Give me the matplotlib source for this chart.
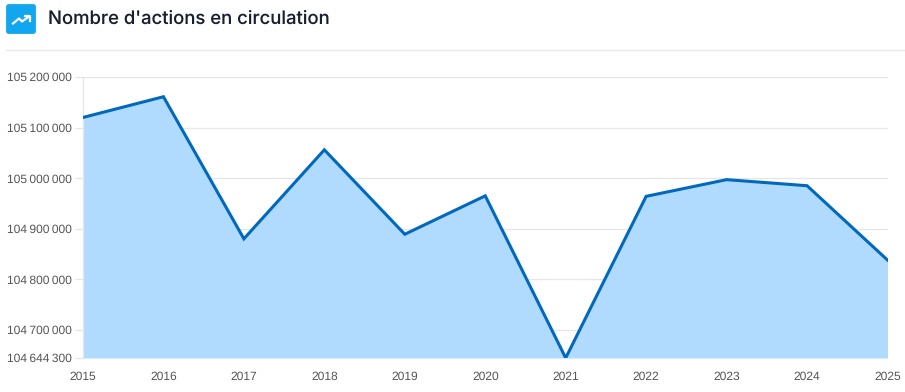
import matplotlib
matplotlib.use("Agg")
import matplotlib.pyplot as plt
from matplotlib.patches import FancyBboxPatch
from matplotlib.lines import Line2D

W, H = 905, 392
years = [2015, 2016, 2017, 2018, 2019, 2020, 2021, 2022, 2023, 2024, 2025]
shares = [105120000, 105161000, 104880000, 105056000, 104889000, 104965000,
          104644300, 104964000, 104997000, 104985000, 104838000]
y_ticks = [104644300, 104700000, 104800000, 104900000, 105000000, 105100000, 105200000]
y_labels = ["104\u2009644\u2009300", "104\u2009700\u2009000", "104\u2009800\u2009000", "104\u2009900\u2009000",
            "105\u2009000\u2009000", "105\u2009100\u2009000", "105\u2009200\u2009000"]
title = "Nombre d'actions en circulation"

plt.rcParams['font.family'] = ['Liberation Sans', 'DejaVu Sans']
plt.rcParams['text.hinting'] = 'none'
plt.rcParams['text.hinting_factor'] = 1
fig = plt.figure(figsize=(W/100, H/100), dpi=100, facecolor='white')

def fx(p): return p / W
def fy(p): return 1 - p / H

left, right, top, bottom = 83, 887.5, 77, 358
ax = fig.add_axes([fx(left), fy(bottom), (right-left)/W, (bottom-top)/H])
ax.set_xlim(years[0], years[-1])
ax.set_ylim(y_ticks[0], y_ticks[-1])
ax.fill_between(years, shares, y_ticks[0], color='#b1daff', lw=0, zorder=2)
ax.plot(years, shares, color='#0069bd', lw=2.2, zorder=3, clip_on=True, solid_joinstyle='miter')
ax.set_yticks(y_ticks, y_labels)
ax.set_xticks(years, [str(y) for y in years])
ax.grid(axis='y', color='#e6e6e6', lw=0.9, zorder=1)
ax.set_axisbelow(True)
for s in ['top', 'right', 'bottom']:
    ax.spines[s].set_visible(False)
ax.spines['left'].set_color('#e6e6e6')
ax.spines['left'].set_linewidth(0.9)
ax.tick_params(axis='y', length=5.7, width=0.9, color='#e6e6e6', labelcolor='#555555', labelsize=8.3, pad=2.4)
ax.tick_params(axis='x', length=0, labelcolor='#555555', labelsize=8.3, pad=9.2)

# header
fig.add_artist(Line2D([fx(6), fx(904)], [fy(50), fy(50)], color='#e8e8e8', lw=1))
fig.text(fx(48), fy(19), title, fontsize=13.3, color='#16202f', family=['Inter', 'DejaVu Sans'],
         fontweight='medium', va='center', ha='left')

# icon
icon_ax = fig.add_axes([0, 0, 1, 1], facecolor='none')
icon_ax.set_xlim(0, W); icon_ax.set_ylim(H, 0); icon_ax.axis('off')
icon_ax.add_patch(FancyBboxPatch((6.3, 4.3), 29.4, 29.4, boxstyle='round,pad=0,rounding_size=3',
                                 fc='#12a6ee', ec='#12a6ee', lw=0.5))
icon_ax.plot([13, 19, 22, 29], [23.5, 18.5, 21.5, 16.5], color='white', lw=1.6)
icon_ax.plot([25, 29.5, 29.5], [16, 16, 20.5], color='white', lw=1.6)

fig.savefig('out.png', dpi=100)
